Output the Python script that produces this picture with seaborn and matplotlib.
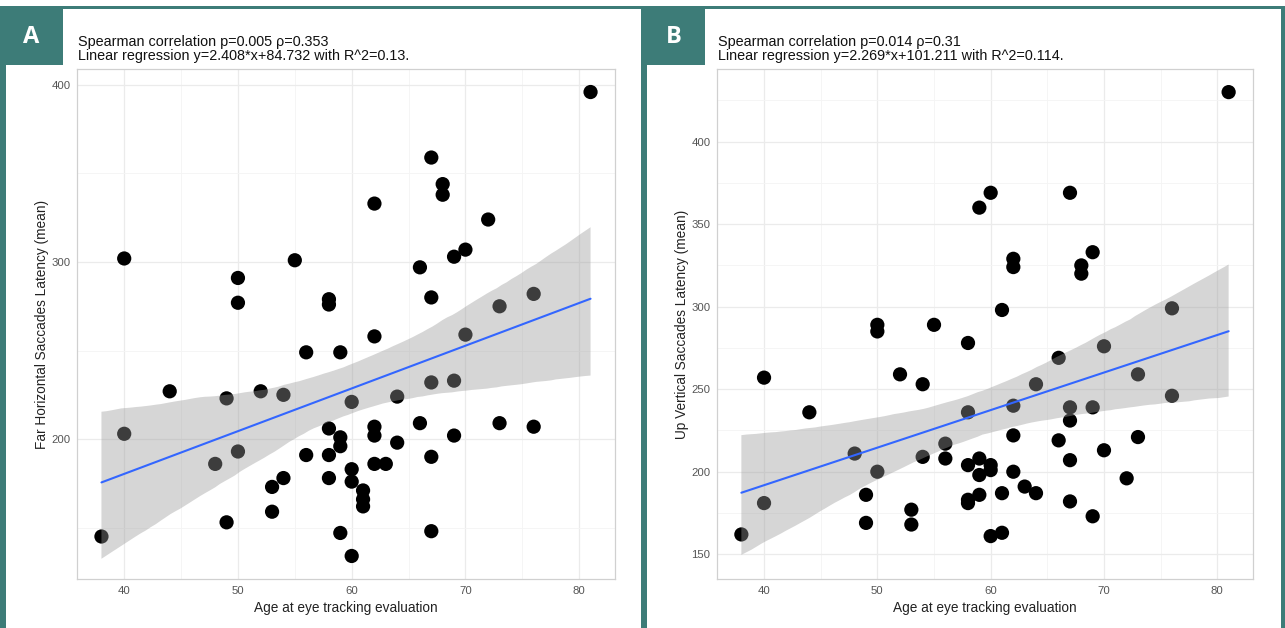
import numpy as np
import pandas as pd
import matplotlib
matplotlib.use("Agg")
import matplotlib.pyplot as plt
import seaborn as sns
from matplotlib.patches import Rectangle

# ---------------- data ----------------
age_a = [38, 40, 40, 44, 48, 49, 49, 50, 50, 50, 52, 53, 53, 54, 54, 55, 56, 56,
         58, 58, 58, 58, 58, 59, 59, 59, 59, 60, 60, 60, 60, 61, 61, 61, 62, 62,
         62, 62, 62, 63, 64, 64, 66, 66, 67, 67, 67, 67, 67, 68, 68, 69, 69, 69,
         70, 70, 72, 73, 73, 76, 76, 81]
lat_a = [145, 203, 302, 227, 186, 223, 153, 193, 291, 277, 227, 173, 159, 225, 178, 301, 249, 191,
         279, 276, 206, 191, 178, 249, 201, 196, 147, 221, 183, 176, 134, 171, 166, 162, 333, 258,
         207, 202, 186, 186, 224, 198, 297, 209, 359, 280, 232, 190, 148, 344, 338, 303, 233, 202,
         307, 259, 324, 275, 209, 282, 207, 396]

age_b = [38, 40, 40, 44, 48, 49, 49, 50, 50, 50, 52, 53, 53, 54, 54, 55, 56, 56,
         58, 58, 58, 58, 58, 59, 59, 59, 59, 60, 60, 60, 60, 61, 61, 61, 62, 62,
         62, 62, 62, 63, 64, 64, 66, 66, 67, 67, 67, 67, 67, 68, 68, 69, 69, 69,
         70, 70, 72, 73, 73, 76, 76, 81]
lat_b = [162, 257, 181, 236, 211, 186, 169, 289, 285, 200, 259, 177, 168, 253, 209, 289, 217, 208,
         278, 236, 204, 183, 181, 360, 208, 198, 186, 369, 204, 201, 161, 298, 187, 163, 329, 324,
         240, 222, 200, 191, 253, 187, 269, 219, 369, 239, 231, 207, 182, 325, 320, 333, 239, 173,
         276, 213, 196, 259, 221, 299, 246, 430]

x_label = "Age at eye tracking evaluation"
y_label_a = "Far Horizontal Saccades Latency (mean)"
y_label_b = "Up Vertical Saccades Latency (mean)"
header_a = ["Spearman correlation p=0.005 \u03c1=0.353",
            "Linear regression y=2.408*x+84.732 with R^2=0.13."]
header_b = ["Spearman correlation p=0.014 \u03c1=0.31",
            "Linear regression y=2.269*x+101.211 with R^2=0.114."]
x_ticks = [40, 50, 60, 70, 80]
y_ticks_a = [200, 300, 400]
y_ticks_b = [150, 200, 250, 300, 350, 400]

# ---------------- figure ----------------
sns.set_theme(style="white")
plt.rcParams["font.family"] = ["Liberation Sans", "DejaVu Sans"]

W, H = 1285, 628
fig = plt.figure(figsize=(W / 100, H / 100), dpi=100)
fig.patch.set_facecolor("white")


def fx(px):
    return px / W


def fy(py):
    return 1 - py / H


teal = "#3d7c78"


def rect(x0, y0, x1, y1):
    fig.add_artist(Rectangle((fx(x0), fy(y1)), fx(x1) - fx(x0), fy(y0) - fy(y1),
                             transform=fig.transFigure, facecolor=teal,
                             edgecolor="none", zorder=0))


# frame decoration
rect(0, 6, W, 9)
rect(0, 8, 63, 65)
rect(0, 65, 6, H)
rect(641, 8, 647, H)
rect(641, 8, 705, 65)
rect(1281, 8, W, H)
fig.text(fx(31), fy(37), "A", color="white", fontsize=17, fontweight="bold",
         ha="center", va="center", family=["Open Sans", "DejaVu Sans"])
fig.text(fx(674), fy(37), "B", color="white", fontsize=17, fontweight="bold",
         ha="center", va="center", family=["Open Sans", "DejaVu Sans"])

panels = [
    (77, 615, age_a, lat_a, y_label_a, (121, 409), y_ticks_a, [150, 250, 350], header_a),
    (717, 1253, age_b, lat_b, y_label_b, (135, 444), y_ticks_b,
     [175, 225, 275, 325, 375, 425], header_b),
]

for left, right, xs, ys, ylab, ylim, yt, yminor, header in panels:
    ax = fig.add_axes([fx(left), fy(579), fx(right) - fx(left), fy(69) - fy(579)])
    df = pd.DataFrame({"age": xs, "lat": ys})
    sns.scatterplot(data=df, x="age", y="lat", ax=ax, color="black", s=105,
                    edgecolor="none", linewidth=0, zorder=1)
    sns.regplot(data=df, x="age", y="lat", ax=ax, scatter=False, ci=95,
                n_boot=2000, seed=3, truncate=True,
                line_kws=dict(color="#3366FF", lw=1.5, zorder=3))
    band = ax.collections[-1]
    band.set_facecolor("#999999")
    band.set_alpha(0.4)
    band.set_edgecolor("none")
    band.set_zorder(2)

    ax.set_xlim(35.85, 83.15)
    ax.set_ylim(*ylim)
    ax.set_xticks(x_ticks)
    ax.set_xticks([45, 55, 65, 75], minor=True)
    ax.set_yticks(yt)
    ax.set_yticks(yminor, minor=True)
    ax.grid(which="major", color="#ebebeb", lw=0.9, zorder=0)
    ax.grid(which="minor", color="#f4f4f4", lw=0.6, zorder=0)
    ax.set_axisbelow(True)
    for sp in ax.spines.values():
        sp.set_visible(True)
        sp.set_color("#d0d0d0")
        sp.set_linewidth(0.9)
    ax.tick_params(axis="both", which="major", labelsize=8.2, colors="#b0b0b0",
                   labelcolor="#555555", length=3, width=0.6, pad=1.8)
    ax.tick_params(axis="both", which="minor", length=0)
    ax.set_xlabel(x_label, fontsize=9.8, color="#222222", labelpad=4)
    ax.set_ylabel(ylab, fontsize=9.8, color="#222222", labelpad=1.5)

    fig.text(fx(left + 1), fy(46), header[0], fontsize=10.4, color="#111111", va="baseline")
    fig.text(fx(left + 1), fy(60), header[1], fontsize=10.4, color="#111111", va="baseline")

fig.savefig("out.png", dpi=100, facecolor="white")
